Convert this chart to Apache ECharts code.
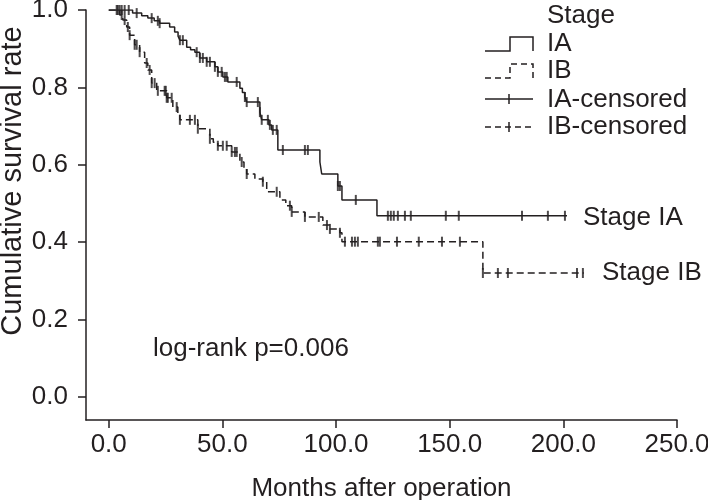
<!DOCTYPE html>
<html><head><meta charset="utf-8">
<script src="https://cdn.jsdelivr.net/npm/echarts@6/dist/echarts.min.js"></script>
<style>html,body{margin:0;padding:0;background:#fff}#c{width:708px;height:500px}</style>
</head><body><div id="c"></div>
<script>
// Kaplan-Meier step data (time in months, survival after event)
var iaTime = [0, 10.5, 14.5, 17.2, 20, 22.4, 26.8, 29, 30.5, 31.3, 34.3, 36, 37.9, 40, 43.1, 46.7, 48, 50.2, 52.4, 57.7, 58.8, 59.9, 60.7, 66.5, 67.3, 70.5, 71.7, 74.4, 92.9, 93.7, 100.8, 102.6, 118, 201.6];
var iaSurv = [1.0, 0.992, 0.985, 0.979, 0.972, 0.966, 0.956, 0.943, 0.932, 0.922, 0.904, 0.897, 0.891, 0.876, 0.866, 0.853, 0.840, 0.827, 0.814, 0.798, 0.787, 0.775, 0.762, 0.736, 0.716, 0.703, 0.690, 0.638, 0.607, 0.576, 0.545, 0.509, 0.468, 0.468];
var ibTime = [0, 4.8, 6.2, 7.9, 9.2, 11.4, 13.6, 15.8, 17.2, 18.9, 21.1, 25.5, 28.2, 30.4, 31.3, 39.2, 44.5, 46, 48, 54.1, 57.7, 59.5, 60.7, 64.3, 67.8, 69.5, 75.3, 77.9, 80.5, 86.3, 94.2, 97.3, 101.7, 102.6, 164.6, 209];
var ibSurv = [1.0, 0.987, 0.974, 0.956, 0.935, 0.910, 0.891, 0.863, 0.845, 0.811, 0.791, 0.773, 0.749, 0.729, 0.716, 0.693, 0.667, 0.658, 0.649, 0.633, 0.607, 0.590, 0.576, 0.563, 0.556, 0.530, 0.509, 0.494, 0.478, 0.465, 0.444, 0.434, 0.424, 0.401, 0.320, 0.320];
// censoring times
var iaCensor = [3.5, 4.8, 5.7, 7.0, 8.8, 12.3, 18.9, 21.6, 22.4, 31.3, 32.6, 38.7, 40.1, 41.4, 43.1, 44.5, 46.7, 48.0, 49.7, 51.1, 51.9, 56.3, 59.9, 60.7, 65.6, 66.5, 67.3, 70.0, 70.9, 72.2, 73.9, 76.6, 86.3, 87.6, 100.8, 101.7, 108.7, 122.8, 124.1, 125.4, 127.2, 130.3, 132.9, 148.3, 154.0, 181.8, 193.2, 200.7];
var ibCensor = [4.0, 5.7, 7.0, 8.4, 9.2, 11.4, 12.3, 13.6, 16.7, 18.0, 18.9, 20.2, 21.6, 24.6, 25.1, 25.5, 26.0, 27.7, 29.9, 31.3, 35.7, 37.9, 39.2, 44.5, 48.0, 50.2, 51.9, 54.1, 55.5, 56.3, 58.5, 60.7, 67.8, 73.9, 79.7, 80.5, 86.3, 92.4, 96.0, 97.3, 101.7, 103.9, 107.0, 108.3, 109.6, 118.4, 119.3, 126.8, 136.4, 146.6, 154.5, 164.6, 171.2, 175.6, 206.0, 208.6];
var xTicks = [0, 50, 100, 150, 200, 250];
var yTicks = [0, 0.2, 0.4, 0.6, 0.8, 1.0];

function pairs(t, s) { return t.map(function (v, i) { return [v, s[i]]; }); }
function survAt(t, times, surv) {
  var v = surv[0];
  for (var i = 0; i < times.length; i++) { if (times[i] <= t) v = surv[i]; }
  return v;
}
function censorPts(c, times, surv) { return c.map(function (t) { return [t, survAt(t, times, surv)]; }); }

var INK = '#231f20';
var FONT = "'Liberation Sans', Arial, sans-serif";
var FS = 26;
var chart = echarts.init(document.getElementById('c'));
chart.setOption({
  animation: false,
  backgroundColor: '#fff',
  grid: { left: 86, right: 31, top: 10, bottom: 80, containLabel: false, outerBoundsMode: 'none' },
  xAxis: {
    type: 'value', min: -10, max: 250,
    splitLine: { show: false },
    axisLine: { onZero: false, lineStyle: { color: INK, width: 1.5 } },
    axisTick: { customValues: xTicks, length: 8, lineStyle: { color: INK, width: 1.5 } },
    axisLabel: { customValues: xTicks, margin: 12, color: INK, fontSize: FS, fontFamily: FONT, formatter: function (v) { return v.toFixed(1); } },
    name: 'Months after operation', nameLocation: 'middle', nameGap: 56,
    nameTextStyle: { color: INK, fontSize: FS, fontFamily: FONT }
  },
  yAxis: {
    type: 'value', min: -0.06, max: 1.0,
    splitLine: { show: false },
    axisLine: { show: true, onZero: false, lineStyle: { color: INK, width: 1.5 } },
    axisTick: { show: true, customValues: yTicks, length: 8, lineStyle: { color: INK, width: 1.5 } },
    axisLabel: { customValues: yTicks, margin: 18, color: INK, fontSize: FS, fontFamily: FONT, formatter: function (v) { return v.toFixed(1); } }
  },
  series: [
    { type: 'line', step: 'end', showSymbol: false, data: pairs(iaTime, iaSurv), lineStyle: { color: INK, width: 1.5 }, z: 3 },
    { type: 'line', step: 'end', showSymbol: false, data: pairs(ibTime, ibSurv), lineStyle: { color: INK, width: 1.5, type: [7, 4] }, z: 3 },
    { type: 'scatter', symbol: 'rect', symbolSize: [2, 10], data: censorPts(iaCensor, iaTime, iaSurv), itemStyle: { color: INK }, z: 4 },
    { type: 'scatter', symbol: 'rect', symbolSize: [2, 10], data: censorPts(ibCensor, ibTime, ibSurv), itemStyle: { color: INK }, z: 4 }
  ],
  graphic: [
    { type: 'text', x: 13, y: 181, rotation: Math.PI / 2, style: { text: 'Cumulative survival rate', fill: INK, font: '29px ' + FONT, textAlign: 'center', textVerticalAlign: 'middle' } },
    { type: 'text', x: 153, y: 349, style: { text: 'log-rank p=0.006', fill: INK, font: FS + 'px ' + FONT, textVerticalAlign: 'middle' } },
    { type: 'text', x: 583, y: 218, style: { text: 'Stage IA', fill: INK, font: FS + 'px ' + FONT, textVerticalAlign: 'middle' } },
    { type: 'text', x: 602, y: 273, style: { text: 'Stage IB', fill: INK, font: FS + 'px ' + FONT, textVerticalAlign: 'middle' } },
    { type: 'text', x: 547, y: 16, style: { text: 'Stage', fill: INK, font: FS + 'px ' + FONT, textVerticalAlign: 'middle' } },
    { type: 'text', x: 547, y: 44, style: { text: 'IA', fill: INK, font: FS + 'px ' + FONT, textVerticalAlign: 'middle' } },
    { type: 'text', x: 547, y: 71, style: { text: 'IB', fill: INK, font: FS + 'px ' + FONT, textVerticalAlign: 'middle' } },
    { type: 'text', x: 547, y: 100, style: { text: 'IA-censored', fill: INK, font: FS + 'px ' + FONT, textVerticalAlign: 'middle' } },
    { type: 'text', x: 547, y: 127, style: { text: 'IB-censored', fill: INK, font: FS + 'px ' + FONT, textVerticalAlign: 'middle' } },
    { type: 'polyline', shape: { points: [[485, 51], [510, 51], [510, 37], [533, 37], [533, 51]] }, style: { stroke: INK, lineWidth: 1.5, fill: null } },
    { type: 'polyline', shape: { points: [[485, 78], [510, 78], [510, 64], [533, 64], [533, 78]] }, style: { stroke: INK, lineWidth: 1.5, fill: null, lineDash: [6, 4] } },
    { type: 'line', shape: { x1: 485, y1: 99, x2: 533, y2: 99 }, style: { stroke: INK, lineWidth: 1.5 } },
    { type: 'line', shape: { x1: 509, y1: 94, x2: 509, y2: 104 }, style: { stroke: INK, lineWidth: 1.5 } },
    { type: 'line', shape: { x1: 485, y1: 127, x2: 533, y2: 127 }, style: { stroke: INK, lineWidth: 1.5, lineDash: [6, 4] } },
    { type: 'line', shape: { x1: 509, y1: 122, x2: 509, y2: 132 }, style: { stroke: INK, lineWidth: 1.5 } }
  ]
});
</script></body></html>
